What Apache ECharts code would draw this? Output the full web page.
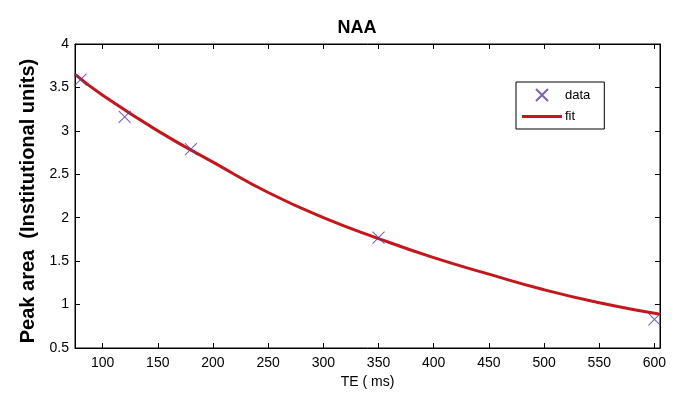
<!DOCTYPE html>
<html><head><meta charset="utf-8">
<script src="https://cdn.jsdelivr.net/npm/echarts@6/dist/echarts.min.js"></script>
<style>html,body{margin:0;padding:0;background:#fff}#c{width:685px;height:416px}</style>
</head><body><div id="c"></div>
<script>
const dataTE = [80, 120, 180, 350, 600];
const dataArea = [3.59, 3.16, 2.79, 1.77, 0.83];
const fitTE = [75, 100, 150, 200, 250, 300, 350, 400, 450, 500, 550, 600, 605];
const fitArea = [3.65, 3.41, 3.00, 2.64, 2.29, 2.00, 1.76, 1.54, 1.35, 1.17, 1.02, 0.90, 0.89];
const xTicks = [100, 150, 200, 250, 300, 350, 400, 450, 500, 550, 600];
const yTicks = [0.5, 1, 1.5, 2, 2.5, 3, 3.5, 4];

const font = 'Arial, "Liberation Sans", sans-serif';
const chart = echarts.init(document.getElementById('c'));
const xPlot = {min: 75, max: 605};
const yPlot = {min: 0.5, max: 4};
const tickStyle = {show: true, inside: true, length: 5, lineStyle: {color: '#000', width: 1}};
chart.setOption({
  animation: false,
  backgroundColor: '#fff',
  title: {text: 'NAA', left: 352, top: 14, textAlign: 'center',
    textStyle: {fontFamily: font, fontSize: 18, fontWeight: 'bold', color: '#000'}},
  grid: {left: 75, right: 25, top: 44, bottom: 68, show: true, borderColor: '#000', borderWidth: 1},
  legend: {
    orient: 'vertical', left: 516, top: 82, padding: [6, 14, 6, 6], itemGap: 8,
    borderColor: '#000', borderWidth: 1, backgroundColor: '#fff',
    itemWidth: 40, itemHeight: 12,
    textStyle: {fontFamily: font, fontSize: 13, color: '#000', padding: [0, 0, 0, -2]},
    data: [{name: 'data'},
           {name: 'fit', icon: 'path://M0,0H40V3H0Z', itemStyle: {color: '#c4161c', borderWidth: 0}}]
  },
  xAxis: [{
    type: 'value', ...xPlot, name: 'TE ( ms)', nameLocation: 'middle', nameGap: 27,
    nameTextStyle: {fontFamily: font, fontSize: 14, color: '#000'},
    axisLine: {show: true, onZero: false, lineStyle: {color: '#000', width: 1}},
    axisTick: {...tickStyle, customValues: xTicks},
    axisLabel: {customValues: xTicks, fontFamily: font, fontSize: 14, color: '#000', margin: 8},
    splitLine: {show: false}
  }, {
    type: 'value', ...xPlot, position: 'top',
    axisLine: {show: true, onZero: false, lineStyle: {color: '#000', width: 1}},
    axisTick: {...tickStyle, customValues: xTicks},
    axisLabel: {show: false}, splitLine: {show: false}
  }],
  yAxis: [{
    type: 'value', ...yPlot, name: 'Peak area  (Institutional units)', nameLocation: 'middle', nameGap: 35,
    nameTextStyle: {fontFamily: font, fontSize: 20, fontWeight: 'bold', color: '#000', padding: [0, 10, 0, 0]},
    axisLine: {show: true, onZero: false, lineStyle: {color: '#000', width: 1}},
    axisTick: {...tickStyle, customValues: yTicks},
    axisLabel: {customValues: yTicks, fontFamily: font, fontSize: 14, color: '#000', margin: 6},
    splitLine: {show: false}
  }, {
    type: 'value', ...yPlot, position: 'right',
    axisLine: {show: true, onZero: false, lineStyle: {color: '#000', width: 1}},
    axisTick: {...tickStyle, customValues: yTicks},
    axisLabel: {show: false}, splitLine: {show: false}
  }],
  series: [{
    name: 'fit', type: 'line', smooth: true, symbol: 'none', z: 2,
    data: fitTE.map((x, i) => [x, fitArea[i]]),
    lineStyle: {color: '#c4161c', width: 3}, itemStyle: {color: '#c4161c'}
  }, {
    name: 'data', type: 'scatter', z: 3,
    symbol: 'path://M0,0L10,10M10,0L0,10', symbolSize: 12,
    data: dataTE.map((x, i) => [x, dataArea[i]]),
    itemStyle: {color: 'rgba(0,0,0,0)', borderColor: '#5a3c9c', borderWidth: 1.1}
  }]
});
</script></body></html>
